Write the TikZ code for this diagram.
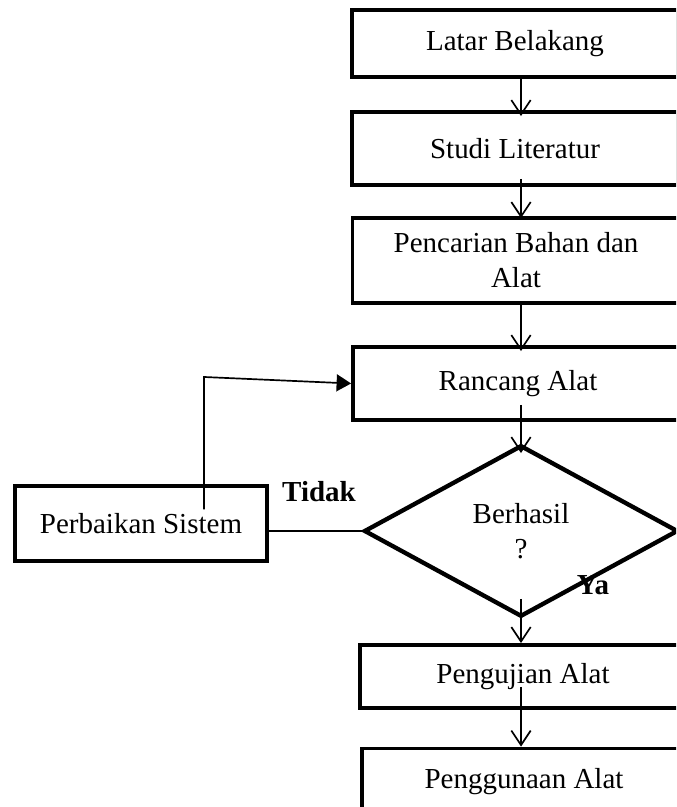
\documentclass[tikz,border=0pt]{standalone}
\usepackage{fontspec}
\setmainfont{Liberation Serif}
\usepackage{tikz}
\usetikzlibrary{positioning, arrows.meta, shapes.geometric, calc}
\tikzset{
  >={Straight Barb[length=6pt,width=8pt]},
  box/.style={draw, line width=1.6pt, minimum width=135pt, inner sep=2pt, align=center, font=\fontsize{12}{14.5}\selectfont},
  cond/.style={draw, diamond, line width=1.8pt, minimum width=130pt, minimum height=71pt, inner sep=0pt, align=center, font=\fontsize{12}{14.5}\selectfont},
  tag/.style={font=\fontsize{12}{14}\selectfont\bfseries},
  flow/.style={->, line width=0.7pt},
  link/.style={line width=0.7pt},
  balik/.style={-{Triangle[length=6pt,width=7pt]}, line width=0.7pt},
}

\begin{document}
\begin{tikzpicture}[x=0.414pt, y=0.414pt]
      \useasboundingbox (0,0) rectangle (676,807);
      \clip (0,0) rectangle (676,807);

      \node[box, minimum height=27.7pt] (latar) at (515,763.5) {Latar Belakang};
      \node[box, minimum height=30.2pt] (studi) at (515,658.5) {Studi Literatur};
      \node[box, minimum width=135.4pt, minimum height=35.2pt] (cari) at (516,546.5) {Pencarian Bahan dan\\Alat};
      \node[box, minimum width=136.6pt, minimum height=30.2pt] (rancang) at (518,423.5) {Rancang Alat};
      \node[tag] (ya) at (593,222) {Ya};
      \node[cond] (cek) at (521,276) {Berhasil\\?};
      \node[box, minimum width=104.3pt, minimum height=31pt] (perbaikan) at (141,283.5) {Perbaikan Sistem};
      \node[tag] (tidak) at (319,315) {Tidak};
      \node[box, minimum height=26.1pt] (uji) at (523,130.5) {Pengujian Alat};
      \node[box, minimum width=134.1pt, minimum height=27.7pt] (guna) at (524,25) {Penggunaan Alat};

      % alur utama
      \draw[flow] (latar.south -| cek) -- ($(studi.north -| cek)+(0,-6)$);
      \draw[flow] ($(studi.south -| cek)+(0,8)$) -- ($(cari.north -| cek)+(0,-2)$);
      \draw[flow] (cari.south -| cek) -- ($(rancang.north -| cek)+(0,-6)$);
      \draw[flow] ($(rancang.south -| cek)+(0,17)$) -- ($(cek.north)+(0,-10)$);
      \draw[flow] ($(cek.south)+(0,20)$) -- (uji.north -| cek);
      \draw[flow] ($(uji.south -| cek)+(0,23)$) -- (guna.north -| cek);

      % perbaikan
      \coordinate (belok) at (204,430);
      \draw[link] (cek.west) -- (cek.west -| perbaikan.east);
      \draw[balik] ($(belok |- perbaikan.center)+(0,14)$) -- (belok) -- (rancang.west);
    \end{tikzpicture}
\end{document}
